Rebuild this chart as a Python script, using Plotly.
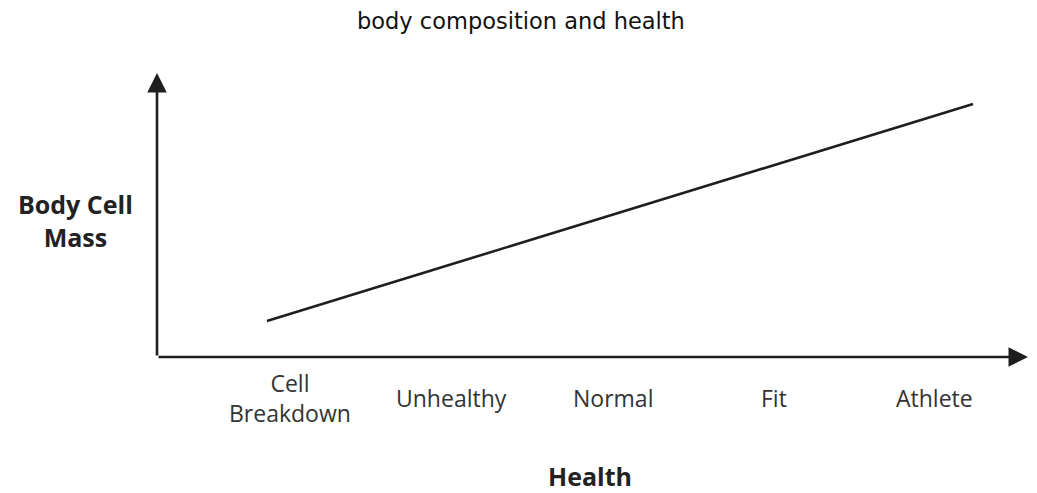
import plotly.graph_objects as go

title_text = "body composition and health"
categories = ["Cell<br>Breakdown", "Unhealthy", "Normal", "Fit", "Athlete"]
cat_pos = [0, 1, 2, 3, 4]
line_x = [-0.144, 4.236]
line_y = [1.27, 8.91]
x_title = "Health"
y_title = "Body Cell<br>Mass"

X_RANGE = [-0.826, 4.577]
Y_RANGE = [0, 10]

# page body has an 8px margin, so the figure is sized to the remaining window
W, H = 1029, 485
L, R, T, B = 149, 9, 65, 136
PW = W - L - R
PH = H - T - B

fig = go.Figure()
fig.add_trace(go.Scatter(x=line_x, y=line_y, mode="lines",
                         line=dict(color="#1e1e1e", width=2.6),
                         showlegend=False, hoverinfo="skip"))

ann = []
# axis arrows
ann.append(dict(x=1, y=0, xref="paper", yref="paper", ax=-PW, ay=0,
                axref="pixel", ayref="pixel", text="", showarrow=True,
                arrowhead=2, arrowsize=1.5, arrowwidth=2.6, arrowcolor="#1e1e1e"))
ann.append(dict(x=0, y=1, xref="paper", yref="paper", ax=0, ay=PH,
                axref="pixel", ayref="pixel", text="", showarrow=True,
                arrowhead=2, arrowsize=1.5, arrowwidth=2.6, arrowcolor="#1e1e1e"))
# category labels
for p, c in zip(cat_pos, categories):
    ann.append(dict(x=p, y=-0.144, xref="x", yref="paper", text=c, showarrow=False,
                    xanchor="center", yanchor="middle",
                    font=dict(family="Open Sans", size=23, color="#333333")))
ann.append(dict(x=-0.0941, y=0.482, xref="paper", yref="paper", text="<b>" + y_title + "</b>",
                showarrow=False, xanchor="center", yanchor="middle",
                font=dict(family="Open Sans", size=25, color="#222222")))
ann.append(dict(x=0.497, y=-0.419, xref="paper", yref="paper", text="<b>" + x_title + "</b>",
                showarrow=False, xanchor="center", yanchor="middle",
                font=dict(family="Open Sans", size=25, color="#222222")))

fig.update_layout(
    width=W, height=H,
    margin=dict(l=L, r=R, t=T, b=B),
    paper_bgcolor="white", plot_bgcolor="white",
    title=dict(text=title_text, x=0.4985, xanchor="center", y=0.972, yanchor="middle",
               font=dict(family="DejaVu Sans", size=22.5, color="#111111")),
    xaxis=dict(range=X_RANGE, showgrid=False, zeroline=False, showticklabels=False, showline=False),
    yaxis=dict(range=Y_RANGE, showgrid=False, zeroline=False, showticklabels=False, showline=False),
    annotations=ann,
)
fig.write_html("out.html")
